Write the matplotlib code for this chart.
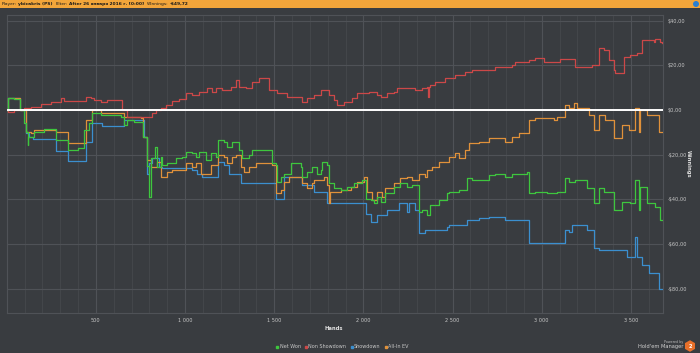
import matplotlib
matplotlib.use("Agg")
import matplotlib.pyplot as plt
from matplotlib.patches import Rectangle, RegularPolygon, Circle
from matplotlib.ticker import FixedLocator, MultipleLocator

# ---------------- data (hands, winnings $) ----------------
net_won_h = [0, 9, 43, 76, 99, 108, 117, 122, 155, 211, 276, 341, 397, 435, 463, 481, 528, 640, 659, 677, 715,
             765, 789, 799, 808, 832, 845, 864, 873, 901, 948, 985, 1004, 1041, 1060, 1079, 1116, 1144, 1172,
             1187, 1219, 1237, 1265, 1303, 1321, 1359, 1377, 1489, 1508,
             1517, 1536, 1555, 1592, 1648, 1657, 1685, 1713, 1741, 1760, 1769, 1797, 1807, 1835, 1872, 1909,
             1947, 1993, 2012, 2040, 2059, 2077, 2096, 2124, 2171, 2208, 2245,
             2273, 2311, 2329, 2357, 2376, 2423, 2469, 2479, 2535, 2581, 2609, 2703, 2740, 2796, 2833, 2917,
             2927, 2964, 3029, 3085, 3132, 3151, 3188, 3253, 3291, 3319, 3347, 3403, 3449, 3496, 3524, 3543,
             3552, 3571, 3589, 3636, 3664, 3672]
net_won_v = [0, 5.2, 5.0, 0, -6.0, -9.7, -15.7, -11.9, -9.7, -8.7, -13.4, -17.9, -17.0, -9.0, -6.0, -1.5, -2.2,
             -3.0, -6.7, -4.5, -5.5,
             -11.9, -25.0, -38.8, -21.6, -16.4, -25.4, -20.9, -24.6, -23.9, -21.6, -20.9, -18.7, -19.4, -20.9,
             -18.7, -22.4, -19.4, -20.9, -13.4, -14.2, -16.4, -14.2, -17.9, -21.6, -20.1, -17.9, -23.9, -24.6,
             -32.1, -29.9, -28.4, -23.9, -25.4, -29.9, -27.6, -25.4, -28.4, -26.9, -23.1, -24.6, -32.8, -35.1,
             -35.8, -34.3, -32.8, -31.3, -39.6, -40.3, -41.8, -38.8, -41.0, -37.3, -34.3, -32.8, -34.3,
             -33.6, -45.5, -44.8, -47.0, -42.5, -40.3, -37.3, -36.6, -35.8, -30.6, -31.3, -29.1, -28.4, -29.9,
             -28.4, -27.6, -37.3, -36.6, -37.3, -36.6, -30.6, -32.1, -31.3, -35.1, -41.8, -35.1, -36.6, -44.8,
             -41.0, -41.8, -31.3, -44.8, -34.3, -34.3, -41.8, -43.3, -49.3, -49.3]

non_sd_h = [0, 9, 43, 99, 136, 192, 248, 304, 323, 397, 444, 472, 491, 528, 565, 631, 649, 677,
            799, 817, 836, 864, 892, 929, 967, 1004, 1041, 1079, 1125, 1153, 1172, 1209, 1256, 1284, 1303,
            1340, 1377, 1415, 1471, 1517, 1573, 1629, 1657, 1685, 1723, 1760, 1807, 1835, 1853, 1891, 1937,
            1965, 2031, 2077, 2096, 2133, 2171, 2189, 2292, 2329, 2357, 2363, 2367, 2376, 2404, 2460, 2516,
            2572, 2609, 2740, 2833, 2852, 2927, 2964, 3011, 3104, 3188, 3281, 3319, 3347, 3375, 3403, 3412,
            3459, 3496, 3533, 3561, 3627, 3636, 3664, 3672]
non_sd_v = [0, -0.7, 0, 0.7, 1.5, 2.5, 3.7, 5.2, 4.2, 4.2, 5.7, 5.2, 4.5, 3.4, 4.5, 4.5, 0, -3.0,
            -3.0, -1.5, 0, 0.7, 2.2, 4.2, 4.8, 7.5, 6.7, 8.2, 9.7, 8.2, 9.7, 9.0, 10.4, 13.4, 10.4,
            10.0, 12.7, 14.2, 9.0, 7.5, 5.7, 5.7, 3.7, 5.2, 6.7, 9.0, 6.7, 4.5, 2.2, 3.7, 5.2,
            7.5, 8.2, 6.7, 6.0, 7.5, 8.2, 9.7, 9.0, 9.7, 10.4, 6.0, 10.4, 11.2, 12.7, 14.2, 15.7,
            17.2, 17.9, 19.4, 20.1, 21.6, 22.4, 23.1, 21.6, 22.7, 19.4, 20.1, 27.6, 26.9, 22.4, 17.9, 16.4,
            23.9, 24.6, 25.4, 31.3, 30.6, 31.8, 30.6, 30.1]

showdown_h = [0, 9, 76, 108, 127, 145, 276, 341, 444, 481, 537, 659,
              771, 789, 799, 814, 855, 873, 1041, 1069, 1097, 1187, 1219, 1247, 1312, 1508, 1555, 1657,
              1723, 1797, 2012, 2040, 2077, 2133, 2199, 2245, 2255, 2292, 2311, 2348, 2469, 2479, 2581,
              2647, 2703, 2796, 2927, 3132, 3151, 3169, 3253, 3291, 3319, 3440, 3477, 3524, 3533, 3561,
              3599, 3655, 3672]
showdown_v = [0, 5.2, 0, -10.4, -11.9, -13.0, -18.2, -22.7, -14.2, -6.0, -7.0, -4.5,
              -11.9, -28.4, -23.9, -21.6, -25.4, -26.1, -26.9, -28.4, -29.9, -23.1, -24.6, -28.4, -32.8,
              -39.6, -29.9, -33.6, -36.6, -41.5, -46.3, -50.0, -47.0, -44.8, -41.8, -45.5, -41.8, -44.8,
              -55.2, -53.7, -52.2, -51.5, -49.3, -48.5, -47.8, -49.3, -59.7, -53.7, -54.5, -51.5, -53.7,
              -61.9, -62.7, -62.7, -65.7, -56.7, -65.7, -69.4, -73.1, -79.9, -79.9]

allin_ev_h = [0, 9, 76, 108, 136, 155, 276, 341, 444, 481, 528, 659, 752,
              765, 789, 808, 845, 864, 901, 929, 1004, 1041, 1060, 1088, 1144, 1187, 1219, 1237, 1265,
              1284, 1312, 1331, 1359, 1396, 1489, 1508, 1536, 1555, 1583, 1657, 1685, 1713, 1723, 1779,
              1797, 1807, 1812, 1872, 1928, 1965, 2003, 2021, 2049, 2077, 2105, 2124, 2171, 2208, 2245,
              2273, 2311, 2348, 2357, 2385, 2423, 2479, 2516, 2535, 2572, 2591, 2647, 2703, 2796, 2833,
              2871, 2927, 2964, 3067, 3085, 3132, 3151, 3179, 3197, 3263, 3291, 3319, 3356, 3403, 3449,
              3487, 3524, 3543, 3552, 3589, 3655, 3672]
allin_ev_v = [0, 5.2, 0, -9.7, -10.4, -9.0, -9.7, -14.9, -4.5, 0, -1.5, -3.0, -3.7,
              -11.9, -22.4, -25.4, -23.1, -29.9, -27.6, -26.9, -23.9, -25.4, -23.9, -28.4, -24.6, -20.1,
              -20.9, -23.9, -20.9, -20.1, -25.4, -27.6, -25.4, -23.9, -24.6, -37.3, -35.8, -32.1, -29.9,
              -32.8, -35.1, -32.8, -31.3, -29.9, -33.6, -41.8, -36.6, -35.8, -34.3, -32.1, -29.9, -36.6,
              -40.3, -36.6, -38.8, -35.1, -32.8, -30.6, -29.9, -31.3, -28.4, -29.9, -26.9, -25.4, -23.1,
              -20.9, -19.4, -21.6, -17.9, -14.9, -14.2, -12.7, -14.2, -11.9, -10.4, -4.5, -3.7, -4.5, -3.0,
              2.2, 0.7, 3.0, 0.7, -2.2, -9.0, -2.2, -4.5, -12.7, -6.7, -9.0, 0.7, -9.7, 0, -2.2, -9.7, -9.7]

x_ticks = [500, 1000, 1500, 2000, 2500, 3000, 3500]
x_tick_labels = ["500", "1 000", "1 500", "2 000", "2 500", "3 000", "3 500"]
y_ticks = [40, 20, 0, -20, -40, -60, -80]
y_tick_labels = ["$40,00", "$20,00", "$0,00", "-$20,00", "-$40,00", "-$60,00", "-$80,00"]

series_names = ["Net Won", "Non Showdown", "Showdown", "All-In EV"]
colors = {"Net Won": "#3ec63e", "Non Showdown": "#cc4848", "Showdown": "#3b8fcf", "All-In EV": "#e0913a"}

header_parts = [("Player:", False), ("ybicakris (PS)", True), ("Filter:", False),
                ("After 26 января 2016 г. [0:00]", True), ("Winnings:", False), ("-$49,72", True)]

# ---------------- figure ----------------
W, H = 700, 353
BG = "#393c40"
fig = plt.figure(figsize=(7.0, 3.53), dpi=100, facecolor=BG)
ax = fig.add_axes([6.7 / W, 1 - 313 / H, (663 - 6.7) / W, (313 - 15) / H], facecolor=BG)

ax.step(showdown_h, showdown_v, where="post", color=colors["Showdown"], lw=0.9, zorder=3)
ax.step(allin_ev_h, allin_ev_v, where="post", color=colors["All-In EV"], lw=0.9, zorder=4)
ax.step(non_sd_h, non_sd_v, where="post", color=colors["Non Showdown"], lw=0.9, zorder=4)
ax.step(net_won_h, net_won_v, where="post", color=colors["Net Won"], lw=0.9, zorder=5)
ax.axhline(0, color="white", lw=1.4, zorder=6)

ax.set_xlim(0, 3680)
ax.set_ylim(-90.8, 42.5)

ax.xaxis.set_major_locator(FixedLocator(x_ticks))
ax.set_xticklabels(x_tick_labels)
ax.xaxis.set_minor_locator(MultipleLocator(100))
ax.yaxis.tick_right()
ax.yaxis.set_major_locator(FixedLocator(y_ticks))
ax.set_yticklabels(y_tick_labels)

ax.grid(True, which="major", color="#4f5257", lw=0.8, zorder=0)
ax.grid(True, which="minor", axis="x", color="#45484c", lw=0.6, zorder=0)
ax.tick_params(which="both", length=0, colors="#c8c8c8", labelsize=3.6, pad=3.5)
for s in ax.spines.values():
    s.set_color("#4f5257")
    s.set_linewidth(0.8)

fig.text(334 / W, 1 - 329 / H, "Hands", color="#e0e0e0", fontsize=3.8, fontweight="bold",
         ha="center", va="center")
fig.text(688 / W, 1 - 164 / H, "Winnings", color="#e0e0e0", fontsize=3.8, fontweight="bold",
         rotation=270, ha="center", va="center")

# header bar
fig.patches.append(Rectangle((0, 1 - 7.5 / H), 1, 7.5 / H, transform=fig.transFigure,
                             facecolor="#f2a53a", edgecolor="none", zorder=0))
fig.canvas.draw()
renderer = fig.canvas.get_renderer()
xpos = 2.0
for txt, bold in header_parts:
    t = fig.text(xpos / W, 1 - 3.9 / H, txt, fontsize=3.2, color="#1a1a1a", va="center",
                 fontweight="bold" if bold else "normal")
    bb = t.get_window_extent(renderer)
    xpos += bb.width + (2.5 if bold else 1.5)

fig.patches.append(Circle((6.96, 3.53 - 0.04), 0.03, transform=fig.dpi_scale_trans,
                          facecolor="#2a7fd0", edgecolor="none"))

# legend
handles = [plt.Line2D([], [], marker="s", ls="none", markersize=2.0, color=colors[n]) for n in series_names]
fig.legend(handles, series_names, loc="center", bbox_to_anchor=(342 / W, 1 - 347 / H), ncol=4,
           frameon=False, fontsize=3.5, labelcolor="#c8c8c8", handletextpad=0.1, columnspacing=0.7,
           handlelength=0.8)

# branding
fig.text(683 / W, 1 - 341.5 / H, "Powered by", fontsize=2.4, color="#bbbbbb", ha="right", va="center")
fig.text(683 / W, 1 - 346.5 / H, "Hold'em Manager", fontsize=3.7, color="#d0d0d0", ha="right", va="center")
fig.patches.append(RegularPolygon((6.90, 3.53 - 3.46), 6, radius=0.058, transform=fig.dpi_scale_trans,
                                  facecolor="#e8702a", edgecolor="none"))
fig.text(690 / W, 1 - 346 / H, "2", fontsize=3.6, color="white", ha="center", va="center", fontweight="bold")

fig.savefig("out.png", dpi=100, facecolor=BG)
